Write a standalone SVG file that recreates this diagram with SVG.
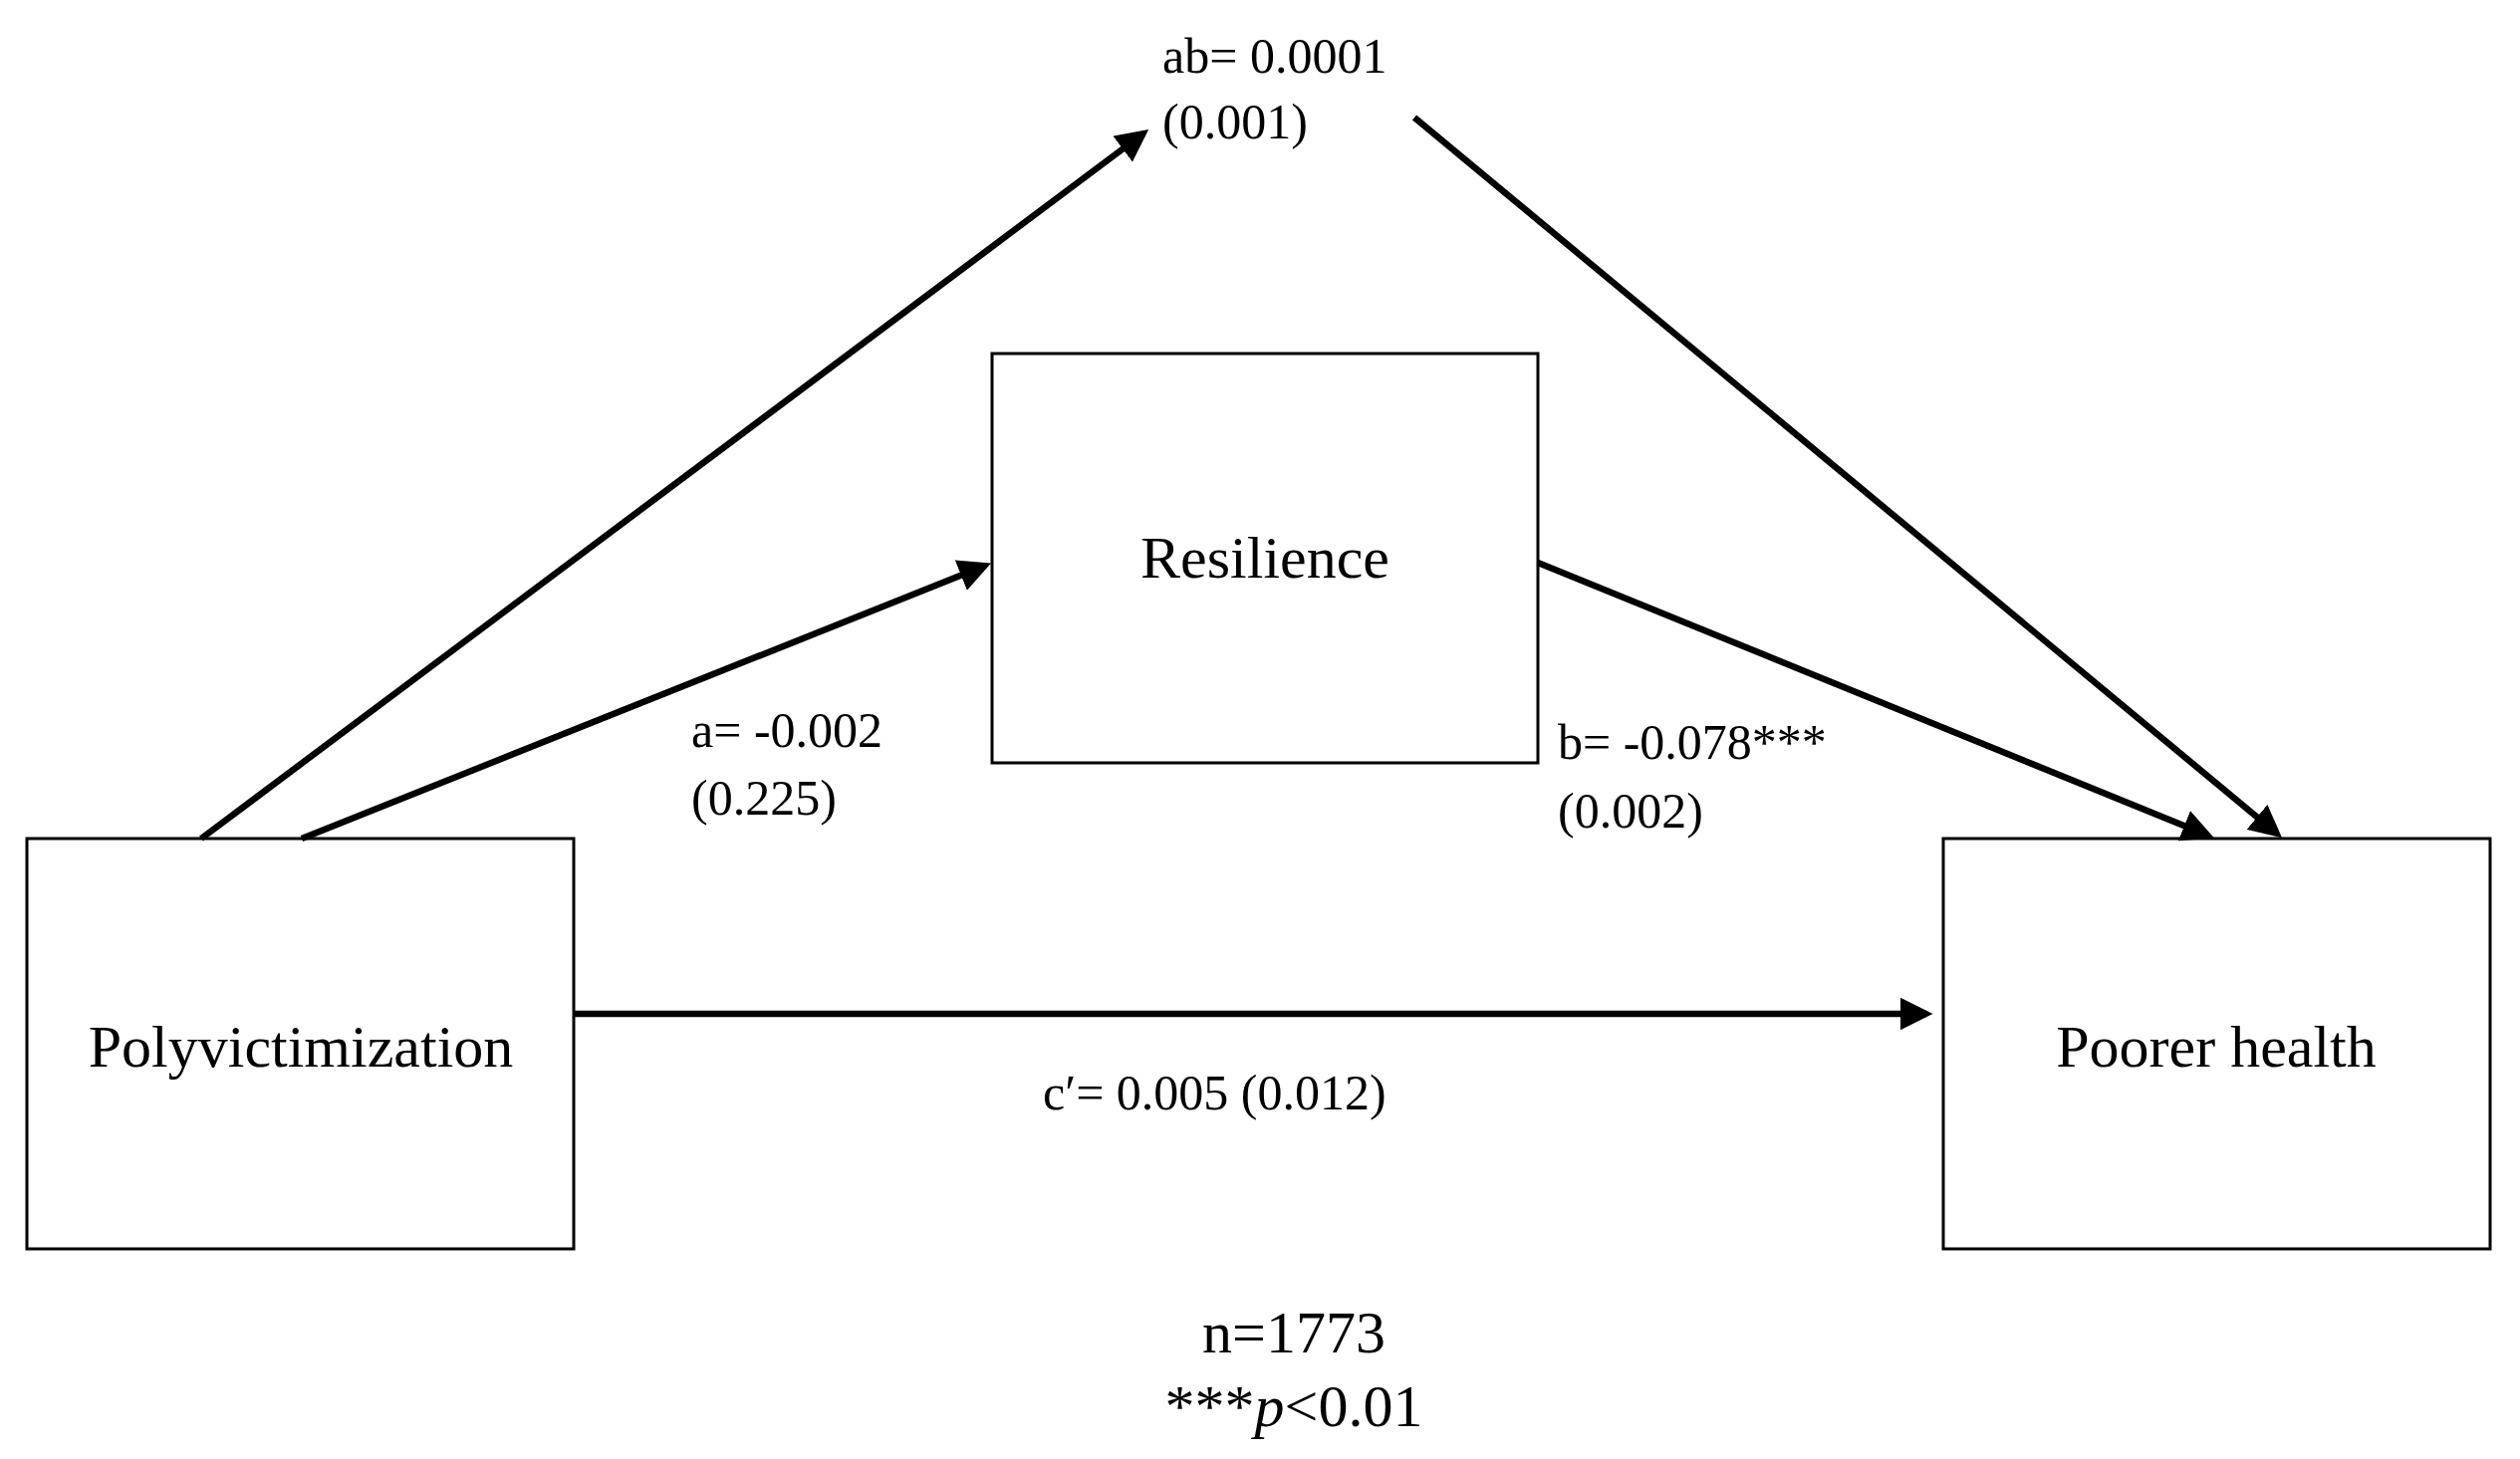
<svg xmlns="http://www.w3.org/2000/svg" width="2530" height="1465" viewBox="0 0 2530 1465">
<style>
.box{fill:#fff;stroke:#000;stroke-width:3}
.ln{stroke:#000;stroke-width:6.5;fill:none;marker-end:url(#ah)}
text{font-family:"Liberation Serif",serif;fill:#000}
.nl{font-size:60px;text-anchor:middle}
.lb{font-size:50px}
</style>
<defs><marker id="ah" markerWidth="5" markerHeight="5" refX="4" refY="2.5" orient="auto" markerUnits="strokeWidth"><path d="M0,0 L5,2.5 L0,5 z" fill="#000"/></marker></defs>
<g id="poly"><rect class="box" x="27" y="842" width="549" height="412"/><text class="nl" x="302" y="1071">Polyvictimization</text></g>
<g id="res"><rect class="box" x="996" y="355" width="548" height="411"/><text class="nl" x="1270" y="580">Resilience</text></g>
<g id="health"><rect class="box" x="1951" y="842" width="549" height="412"/><text class="nl" x="2225" y="1071">Poorer health</text></g>
<g id="connectors">
<line class="ln" x1="202" y1="842" x2="1148" y2="134"/>
<line class="ln" x1="1420" y1="118" x2="2286" y2="837"/>
<line class="ln" x1="303" y1="842" x2="989" y2="568"/>
<line class="ln" x1="1544" y1="565" x2="2217" y2="839"/>
<line class="ln" x1="576" y1="1018" x2="1934" y2="1018"/>
</g>
<g id="labels">
<text class="lb" x="1167" y="73">ab= 0.0001</text>
<text class="lb" x="1167" y="139">(0.001)</text>
<text class="lb" x="694" y="750">a= -0.002</text>
<text class="lb" x="694" y="818">(0.225)</text>
<text class="lb" x="1564" y="762">b= -0.078***</text>
<text class="lb" x="1564" y="831">(0.002)</text>
<text class="lb" x="1047" y="1114">c′= 0.005 (0.012)</text>
<text class="nl" x="1299" y="1358">n=1773</text>
<text class="nl" x="1299" y="1432">***<tspan font-style="italic">p</tspan>&lt;0.01</text>
</g>
</svg>
